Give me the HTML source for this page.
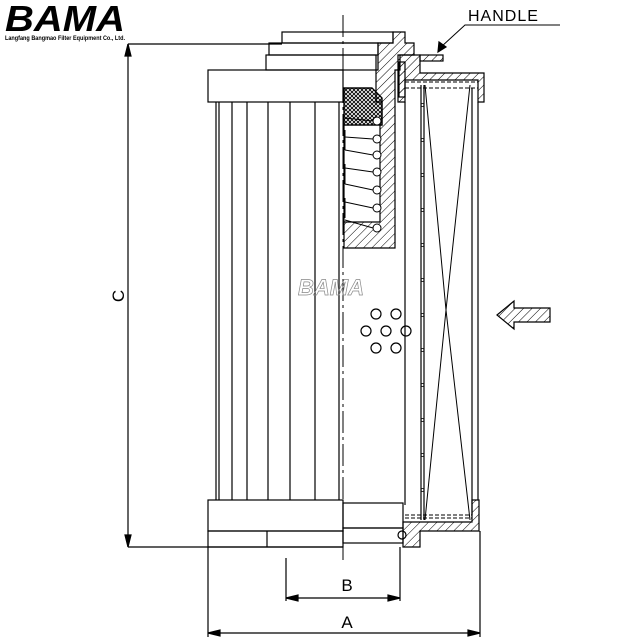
<!DOCTYPE html>
<html><head><meta charset="utf-8"><style>html,body{margin:0;padding:0;background:#fff}svg{display:block}</style></head>
<body>
<svg width="640" height="640" viewBox="0 0 640 640" xmlns="http://www.w3.org/2000/svg">
<defs>
<pattern id="h" width="6" height="6" patternUnits="userSpaceOnUse" patternTransform="rotate(45)"><line x1="0" y1="0" x2="0" y2="6" stroke="#000" stroke-width="1"/></pattern>
<pattern id="x" width="4" height="4" patternUnits="userSpaceOnUse"><path d="M0 0L4 4M4 0L0 4" stroke="#000" stroke-width="0.9"/></pattern>
</defs>
<g fill="none" stroke="#000" stroke-width="1.2">
<!-- logo -->
<text x="5" y="31" font-family="Liberation Sans,sans-serif" font-size="36" font-weight="bold" font-style="italic" fill="#000" stroke="none" textLength="120" lengthAdjust="spacingAndGlyphs">BAMA</text>
<text x="5" y="40" font-family="Liberation Sans,sans-serif" font-size="6.5" font-weight="bold" fill="#000" stroke="none" textLength="120" lengthAdjust="spacingAndGlyphs">Langfang Bangmao Filter Equipment Co., Ltd.</text>
<!-- dimension C -->
<line x1="128" y1="44" x2="282" y2="44"/>
<line x1="128" y1="547" x2="343" y2="547"/>
<line x1="128" y1="44" x2="128" y2="547"/>
<path d="M128 44l-3 12h6z M128 547l-3 -12h6z" fill="#000"/>
<text x="124" y="296" font-family="Liberation Sans,sans-serif" font-size="17" fill="#000" stroke="none" transform="rotate(-90 124 296)" text-anchor="middle">C</text>
<!-- center line -->
<line x1="343" y1="15" x2="343" y2="560" stroke-dasharray="22,4,3,4" stroke-width="1"/>
<!-- top tiers -->
<rect x="282" y="32" width="111" height="11"/>
<rect x="269" y="43" width="109" height="12"/>
<rect x="266" y="55" width="110" height="15"/>
<rect x="208" y="70" width="135" height="32"/>
<!-- pleats -->
<path d="M216 102V500M219 102V500M232 102V500M247 102V500M268 102V500M290 102V500M315 102V500M339 102V500"/>
<!-- bottom caps left -->
<rect x="208" y="500" width="135" height="31"/>
<rect x="208" y="531" width="135" height="16"/>
<line x1="267" y1="531" x2="267" y2="547"/>
<rect x="343" y="503" width="60" height="25"/>
<rect x="343" y="528" width="60" height="15"/>
<circle cx="402" cy="535" r="4"/>
<!-- housing wall section -->
<path d="M378 43H393V32H405V43H414V55H400V70H395V248H344V222H380V125H382V102H376V70H378Z" fill="url(#h)"/>
<path d="M344 88L372 88L382 98V125H344Z" fill="url(#x)"/>
<path d="M344 88L372 88L382 98V125H344Z" fill="none"/>
<path d="M344 125V222"/>
<!-- springs -->
<g stroke-width="1">
<path d="M345 118L373 121M345 137L373 139M345 150L373 155M345 168L373 172M345 184L373 190M345 202L373 208M345 220L373 228"/>
<path d="M345 130V150M345 164V184M345 198V218"/>
<circle cx="377" cy="121" r="4" fill="#fff"/><circle cx="377" cy="139" r="4" fill="#fff"/><circle cx="377" cy="155" r="4" fill="#fff"/><circle cx="377" cy="172" r="4" fill="#fff"/><circle cx="377" cy="190" r="4" fill="#fff"/><circle cx="377" cy="208" r="4" fill="#fff"/><circle cx="377" cy="228" r="4" fill="#fff"/>
</g>
<!-- right cap top -->
<path d="M398 55H420V73H484V102H478V80H405V102H398Z" fill="url(#h)"/>
<rect x="420" y="55" width="23" height="6" fill="url(#h)"/>
<rect x="399" y="62" width="6" height="35" fill="url(#h)"/>
<path d="M405 80H478M405 82H478" stroke-dasharray="4,2" stroke-width="1"/>
<line x1="405" y1="88" x2="478" y2="88" stroke-dasharray="4,2" stroke-width="1"/>
<!-- filter body -->
<line x1="405" y1="102" x2="405" y2="505"/>
<line x1="478" y1="102" x2="478" y2="500"/>
<line x1="472" y1="88" x2="472" y2="515"/>
<line x1="421" y1="85" x2="421" y2="520"/>
<line x1="424" y1="85" x2="424" y2="520"/>
<path d="M425 85L446 310L425 520M470 85L446 310L470 520" stroke-width="1"/>
<g stroke-width="0.8">
<circle cx="422.5" cy="105" r="1.5"/><circle cx="422.5" cy="140" r="1.5"/><circle cx="422.5" cy="175" r="1.5"/><circle cx="422.5" cy="210" r="1.5"/><circle cx="422.5" cy="245" r="1.5"/><circle cx="422.5" cy="280" r="1.5"/><circle cx="422.5" cy="315" r="1.5"/><circle cx="422.5" cy="350" r="1.5"/><circle cx="422.5" cy="385" r="1.5"/><circle cx="422.5" cy="420" r="1.5"/><circle cx="422.5" cy="455" r="1.5"/><circle cx="422.5" cy="490" r="1.5"/>
</g>
<!-- bottom right tray -->
<path d="M403 522H472V500H479V531H420V547H403Z" fill="url(#h)"/>
<path d="M405 515H472M405 518H472" stroke-dasharray="4,2" stroke-width="1"/>
<!-- holes -->
<g stroke-width="1.2">
<circle cx="376" cy="314" r="5"/><circle cx="396" cy="314" r="5"/>
<circle cx="366" cy="331" r="5"/><circle cx="386" cy="331" r="5"/><circle cx="406" cy="331" r="5"/>
<circle cx="376" cy="348" r="5"/><circle cx="396" cy="348" r="5"/>
</g>
<text x="298" y="295" font-family="Liberation Sans,sans-serif" font-size="22" font-style="italic" font-weight="bold" fill="none" stroke="#888" stroke-width="0.7">BAMA</text>
<!-- flow arrow -->
<path d="M497 315L514 301V308H550V322H514V329Z" fill="url(#h)"/>
<!-- handle label -->
<text x="468" y="21" font-family="Liberation Sans,sans-serif" font-size="16" fill="#000" stroke="none" letter-spacing="1">HANDLE</text>
<path d="M560 25H465L441 47" stroke-width="1"/>
<path d="M438 52l1 -10l7 5z" fill="#000"/>
<!-- dimensions B, A -->
<line x1="286" y1="558" x2="286" y2="601"/>
<line x1="400" y1="547" x2="400" y2="601"/>
<line x1="286" y1="598" x2="400" y2="598"/>
<path d="M286 598l12 -3v6z M400 598l-12 -3v6z" fill="#000"/>
<text x="347" y="591" font-family="Liberation Sans,sans-serif" font-size="17" fill="#000" stroke="none" text-anchor="middle">B</text>
<line x1="208" y1="547" x2="208" y2="637"/>
<line x1="480" y1="531" x2="480" y2="637"/>
<line x1="208" y1="633" x2="480" y2="633"/>
<path d="M208 633l12 -3v6z M480 633l-12 -3v6z" fill="#000"/>
<text x="347" y="628" font-family="Liberation Sans,sans-serif" font-size="17" fill="#000" stroke="none" text-anchor="middle">A</text>
</g>
</svg>
</body></html>
